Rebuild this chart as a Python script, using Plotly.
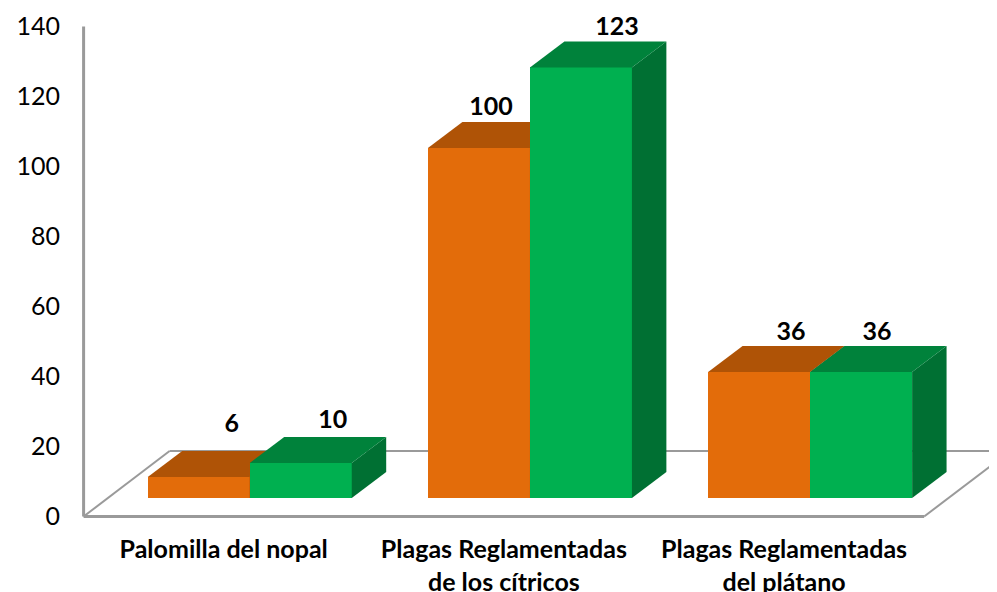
import plotly.graph_objects as go

categories = ["Palomilla del nopal", "Plagas Reglamentadas<br>de los cítricos", "Plagas Reglamentadas<br>del plátano"]
orange_values = [6, 100, 36]
green_values = [10, 123, 36]
y_ticks = [0, 20, 40, 60, 80, 100, 120, 140]

PAGE_INSET = 8      # the browser's default body margin
W, H = 997 - PAGE_INSET, 592 - PAGE_INSET
M_L, M_R, M_T, M_B = 70.4, 0, 0, 72
X_RANGE = [-0.52, 2.76]
Y_RANGE = [-1, 145.29]
BAR_W = 0.364
DX = 0.123          # depth of the 3-D look, in category units
DY = 7.43           # depth in value units
LIFT = 5.3          # front plane sits above the axis floor
FLOOR_DX = 0.307
FLOOR_DY = 18.7
GREY = "#9A9A9A"
FONT = "Lato"


def top_face(x0, v):
    t = LIFT + v
    return [x0, x0 + BAR_W, x0 + BAR_W + DX, x0 + DX, x0], [t, t, t + DY, t + DY, t]


def side_face(x0, v):
    r = x0 + BAR_W
    return [r, r + DX, r + DX, r, r], [LIFT, LIFT + DY, LIFT + v + DY, LIFT + v, LIFT]


def poly(xs, ys, color, axes):
    return go.Scatter(x=xs, y=ys, mode="lines", fill="toself", fillcolor=color,
                      line=dict(width=0, color=color), hoverinfo="skip",
                      showlegend=False, cliponaxis=False, xaxis=axes[0], yaxis=axes[1])


def series(values, x_start, front, top, side, axes):
    xs = [i + x_start + BAR_W / 2 for i in range(len(values))]
    out = [go.Bar(x=xs, y=values, base=[LIFT] * len(values), width=BAR_W,
                  marker=dict(color=front, line=dict(width=0)), showlegend=False,
                  cliponaxis=False, hoverinfo="skip", xaxis=axes[0], yaxis=axes[1])]
    for i, v in enumerate(values):
        out.append(poly(*side_face(i + x_start, v), side, axes))
        out.append(poly(*top_face(i + x_start, v), top, axes))
    return out


orange_x = -0.271
green_x = orange_x + BAR_W

traces = series(orange_values, orange_x, "#E36C0A", "#AF5306", "#8F4505", ("x", "y"))
traces += series(green_values, green_x, "#00B050", "#00823B", "#007033", ("x2", "y2"))

# value labels
label_shift_orange = [0.118, 0.043, 0.114]
label_shift_green = [0.114, 0.129, 0.057]
label_lift_orange = [14.7, 11.2, 11.0]
label_lift_green = [11.9, 11.1, 11.0]
lx, ly, lt = [], [], []
for i in range(3):
    lx.append(i + orange_x + BAR_W / 2 + label_shift_orange[i])
    ly.append(LIFT + orange_values[i] + label_lift_orange[i])
    lt.append(str(orange_values[i]))
    lx.append(i + green_x + BAR_W / 2 + label_shift_green[i])
    ly.append(LIFT + green_values[i] + label_lift_green[i])
    lt.append(str(green_values[i]))
traces.append(go.Scatter(x=lx, y=ly, text=lt, mode="text", cliponaxis=False, showlegend=False,
                         textposition="middle center", hoverinfo="skip",
                         textfont=dict(family=FONT, size=25, color="#000000", weight="bold"),
                         xaxis="x2", yaxis="y2"))

fig = go.Figure(traces)

floor_lines = [
    (-0.5, 0, -0.5, y_ticks[-1], 3),
    (-0.5, 0, 2.5, 0, 3),
    (-0.5, 0, -0.5 + FLOOR_DX, FLOOR_DY, 2),
    (2.5, 0, 2.5 + FLOOR_DX, FLOOR_DY, 2),
    (-0.5 + FLOOR_DX, FLOOR_DY, X_RANGE[1], FLOOR_DY, 2),
]
shapes = [dict(type="line", xref="x", yref="y", x0=a, y0=b, x1=c, y1=d, layer="below",
               line=dict(color=GREY, width=w)) for a, b, c, d, w in floor_lines]

fig.update_layout(
    width=W, height=H, margin=dict(l=M_L, r=M_R, t=M_T, b=M_B, pad=0),
    paper_bgcolor="white", plot_bgcolor="white", shapes=shapes, bargap=0,
    font=dict(family=FONT, color="#000000"),
    xaxis=dict(range=X_RANGE, tickmode="array", tickvals=[0, 1, 2], ticktext=[f"<b>{c.replace('<br>', '</b><br><b>')}</b>" for c in categories],
               showline=False, showgrid=False, zeroline=False, ticks="", ticklabelstandoff=12,
               automargin=False, tickangle=0, tickfont=dict(family=FONT, size=25, color="#000000")),
    yaxis=dict(range=Y_RANGE, tickmode="array", tickvals=y_ticks, showgrid=False, zeroline=False,
               showline=False, ticks="", ticklabelstandoff=17, automargin=False,
               tickfont=dict(family=FONT, size=25, color="#000000")),
    xaxis2=dict(range=X_RANGE, overlaying="x", visible=False),
    yaxis2=dict(range=Y_RANGE, overlaying="y", visible=False),
)

fig.write_html("out.html", config={"displayModeBar": False})
